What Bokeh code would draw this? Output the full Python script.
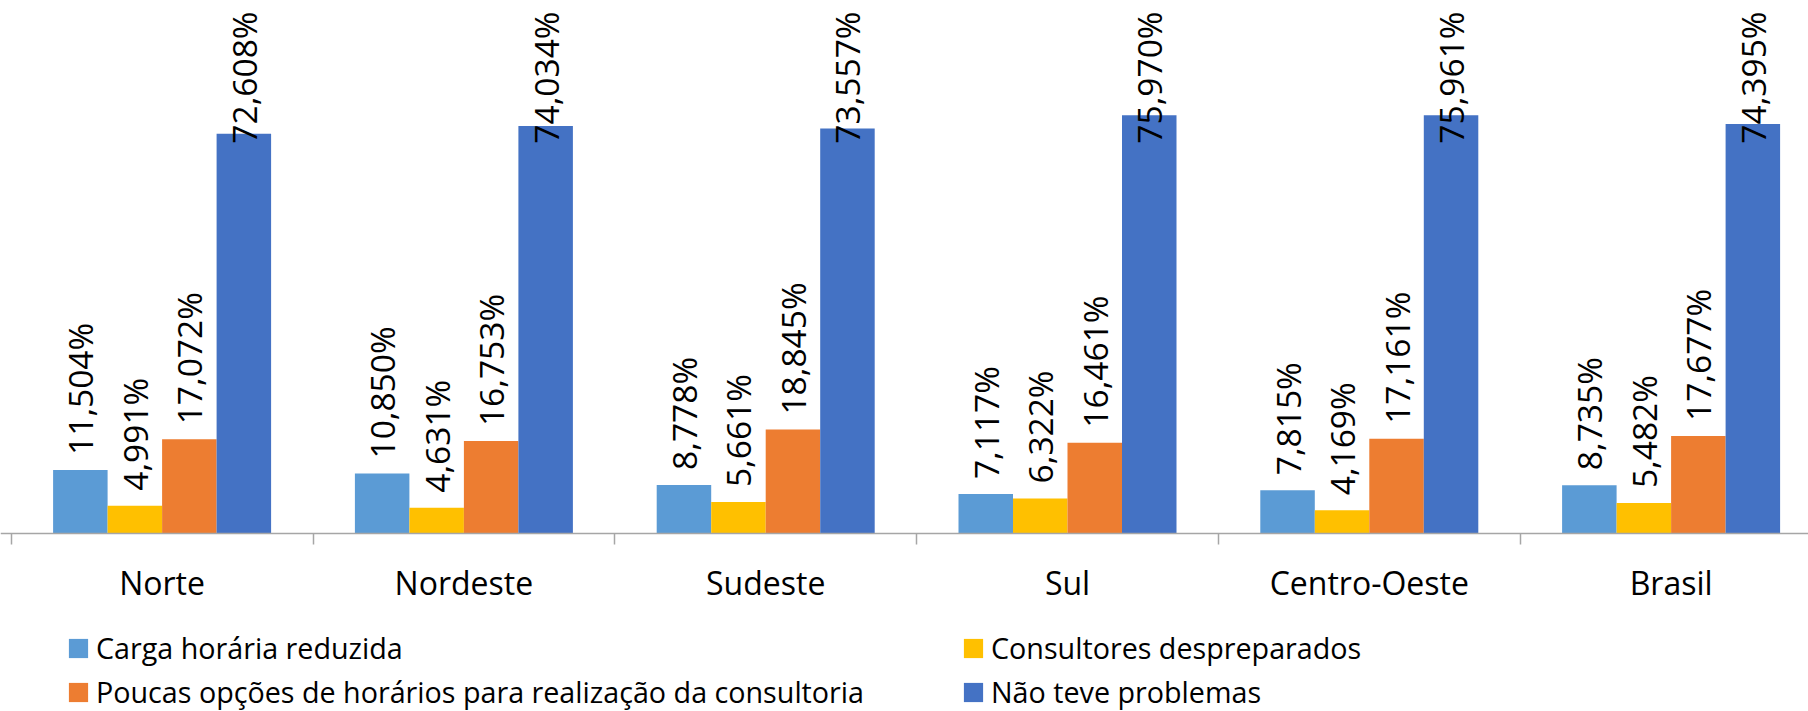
import math
from bokeh.plotting import figure
from bokeh.models import ColumnDataSource, Range1d, LinearAxis, FixedTicker, Legend, LegendItem
from bokeh.core.properties import value
from bokeh.embed import file_html
from bokeh.resources import INLINE

categories = ["Norte", "Nordeste", "Sudeste", "Sul", "Centro-Oeste", "Brasil"]
series_names = [
    "Carga horária reduzida",
    "Consultores despreparados",
    "Poucas opções de horários para realização da consultoria",
    "Não teve problemas",
]
carga_reduzida = [11.504, 10.850, 8.778, 7.117, 7.815, 8.735]
consultores_despreparados = [4.991, 4.631, 5.661, 6.322, 4.169, 5.482]
poucas_opcoes = [17.072, 16.753, 18.845, 16.461, 17.161, 17.677]
nao_teve_problemas = [72.608, 74.034, 73.557, 75.970, 75.961, 74.395]
colors = ["#5B9BD5", "#FFC000", "#ED7D31", "#4472C4"]

series_values = [carga_reduzida, consultores_despreparados, poucas_opcoes, nao_teve_problemas]

FONT = "Open Sans"
PX_PER_CAT = 301.8
PX_PER_UNIT = 5.501
FRAME_W = 1808
FRAME_H = 711
BASE_PX = 532.7            # baseline distance from the top of the frame
x_start = -0.5 - 10.7 / PX_PER_CAT
y_end = BASE_PX / PX_PER_UNIT
y_start = -(FRAME_H - BASE_PX) / PX_PER_UNIT
bar_w = 54.5 / PX_PER_CAT

LABEL_FONT_PX = 33.5
LABEL_LEN_PX = 133
LABEL_GAP_PX = 15
TOP_PAD_PX = 11

p = figure(
    frame_width=FRAME_W, frame_height=FRAME_H,
    x_range=Range1d(x_start, x_start + FRAME_W / PX_PER_CAT),
    y_range=Range1d(y_start, y_end),
    x_axis_type=None, y_axis_type=None,
    output_backend="svg", toolbar_location=None,
    min_border_left=0, min_border_right=0, min_border_top=0, min_border_bottom=0,
    outline_line_color=None, background_fill_color="white", border_fill_color="white",
)

renderers = []
for k, (name, vals, col) in enumerate(zip(series_names, series_values, colors)):
    xs = [i + (k - 1.5) * bar_w for i in range(len(categories))]
    src = ColumnDataSource(dict(x=xs, top=vals))
    r = p.vbar(x="x", top="top", bottom=0, width=bar_w, source=src, fill_color=col, line_color=None)
    renderers.append(r)

    # data labels
    lx, ly, ltxt, lalign, loff = [], [], [], [], []
    for x, v in zip(xs, vals):
        txt = f"{v:.3f}".replace(".", ",") + "%"
        if v * PX_PER_UNIT + LABEL_GAP_PX + LABEL_LEN_PX > BASE_PX - TOP_PAD_PX:
            ly.append((BASE_PX - TOP_PAD_PX) / PX_PER_UNIT)
            lalign.append("right")
            loff.append(0)
        else:
            ly.append(v)
            lalign.append("left")
            loff.append(-LABEL_GAP_PX)
        lx.append(x)
        ltxt.append(txt)
    lsrc = ColumnDataSource(dict(x=lx, y=ly, t=ltxt, a=lalign, o=loff))
    p.text(x="x", y="y", text="t", source=lsrc, angle=math.pi / 2,
           text_align="a", text_baseline="middle", y_offset="o",
           text_font=value(FONT), text_font_size=f"{LABEL_FONT_PX}px", text_color="#000000")

ax = LinearAxis(
    ticker=FixedTicker(ticks=list(range(len(categories))),
                       minor_ticks=[i - 0.5 for i in range(len(categories) + 1)]),
    major_label_overrides={i: c for i, c in enumerate(categories)},
    fixed_location=0,
)
ax.axis_line_color = "#A6A6A6"
ax.axis_line_width = 1.5
ax.major_tick_line_color = None
ax.major_tick_in = 0
ax.major_tick_out = 0
ax.minor_tick_line_color = "#A6A6A6"
ax.minor_tick_line_width = 1.5
ax.minor_tick_in = 0
ax.minor_tick_out = 11
ax.major_label_text_font = FONT
ax.major_label_text_font_size = "32px"
ax.major_label_text_color = "#000000"
ax.major_label_standoff = 17
p.add_layout(ax, "below")

# legend is filled column by column: first column = series 0 and 2, second = 1 and 3
legend_order = [0, 2, 1, 3]
legend = Legend(
    items=[LegendItem(label=series_names[j], renderers=[renderers[j]]) for j in legend_order],
    ncols=2,
    location=(66, 0),
    label_text_font=FONT, label_text_font_size="28.7px", label_text_color="#000000",
    glyph_width=24, glyph_height=24, label_standoff=6, spacing=5,
    label_width=860,
    padding=0, margin=0,
    border_line_color=None, background_fill_alpha=0,
)
p.add_layout(legend, "center")

open("out.html", "w").write(file_html(p, INLINE))
